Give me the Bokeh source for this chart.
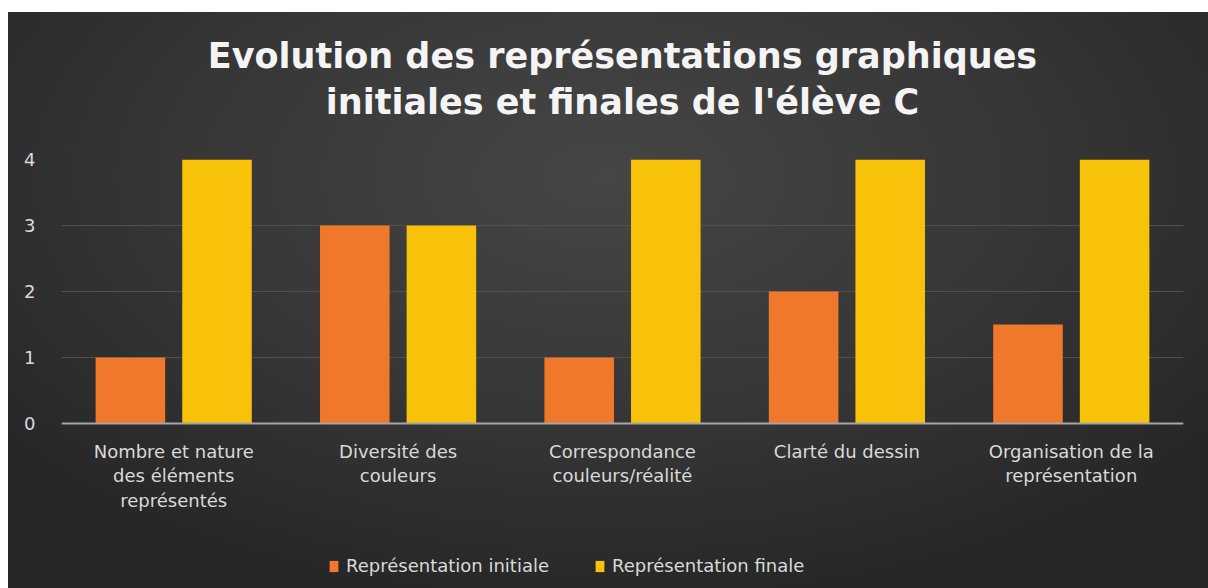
from bokeh.plotting import figure
from bokeh.models import ColumnDataSource, FactorRange, FixedTicker, Legend, LegendItem, Title, Span
from bokeh.core.properties import value
from bokeh.transform import dodge
from bokeh.embed import file_html
from bokeh.resources import INLINE

categories = [
    "Nombre et nature\ndes éléments\nreprésentés",
    "Diversité des\ncouleurs",
    "Correspondance\ncouleurs/réalité",
    "Clarté du dessin",
    "Organisation de la\nreprésentation",
]
initiale = [1, 3, 1, 2, 1.5]
finale = [4, 3, 4, 4, 4]
y_ticks = [0, 1, 2, 3, 4]
series_names = ["Représentation initiale", "Représentation finale"]
title_lines = ["Evolution des représentations graphiques", "initiales et finales de l'élève C"]

# layout constants (not data)
Y_MIN_VIEW = -2.5      # room below the baseline for category labels and legend
LABEL_Y = -0.26        # top of the category labels, just under the baseline

src = ColumnDataSource(dict(cat=categories, initiale=initiale, finale=finale))

bg = ("linear-gradient(to right, #ffffff 8px, rgba(255,255,255,0) 8px), "
      "linear-gradient(to bottom, #ffffff 12px, rgba(255,255,255,0) 12px), "
      "radial-gradient(ellipse 65% 75% at 50% 30%, #464646 0%, #363636 55%, #262626 100%)")

p = figure(
    x_range=FactorRange(*categories), y_range=(Y_MIN_VIEW, 4),
    frame_width=1122, frame_height=429, output_backend="svg", toolbar_location=None,
    x_axis_location=None,
    min_border_left=61, min_border_right=25, min_border_top=159, min_border_bottom=0,
    styles={"background": bg},
)
p.border_fill_alpha = 0
p.background_fill_alpha = 0
p.outline_line_color = None

for txt, so in [(title_lines[1], 76), (title_lines[0], -68)]:
    p.add_layout(Title(text=txt, align="center", text_font="DejaVu Sans", text_font_style="bold",
                       text_font_size="35px", text_color="#f4f4f4", standoff=so), "above")

r1 = p.vbar(x=dodge("cat", -0.193, range=p.x_range), top="initiale", width=0.31,
            source=src, fill_color="#f0782a", line_color=None)
r2 = p.vbar(x=dodge("cat", 0.193, range=p.x_range), top="finale", width=0.31,
            source=src, fill_color="#f8c10a", line_color=None)

# baseline (category axis line)
p.add_layout(Span(location=0, dimension="width", line_color="#a6a6a6", line_width=2))

# category labels
p.text(x="cat", y=LABEL_Y, text="cat", source=src, text_align="center", text_baseline="top",
       text_font=value("DejaVu Sans"), text_font_size="18px", text_color="#d9d9d9",
       text_line_height=1.18)

p.xgrid.grid_line_color = None
p.ygrid.ticker = FixedTicker(ticks=y_ticks)
p.ygrid.grid_line_color = "#505050"
p.ygrid.grid_line_width = 1

p.yaxis.ticker = FixedTicker(ticks=y_ticks)
p.yaxis.axis_line_color = None
p.yaxis.major_tick_line_color = None
p.yaxis.minor_tick_line_color = None
p.yaxis.major_label_text_color = "#d9d9d9"
p.yaxis.major_label_text_font = "DejaVu Sans"
p.yaxis.major_label_text_font_size = "18px"
p.yaxis.major_label_standoff = 20

legend = Legend(
    items=[LegendItem(label=series_names[0], renderers=[r1]),
           LegendItem(label=series_names[1], renderers=[r2])],
    orientation="horizontal", location=(267, 12),
    background_fill_alpha=0, border_line_color=None,
    label_text_color="#d9d9d9", label_text_font="DejaVu Sans", label_text_font_size="18px",
    glyph_width=11, glyph_height=14, spacing=45, label_standoff=7,
    margin=0, padding=8,
)
p.add_layout(legend, "center")

open("out.html", "w").write(file_html(p, INLINE))
